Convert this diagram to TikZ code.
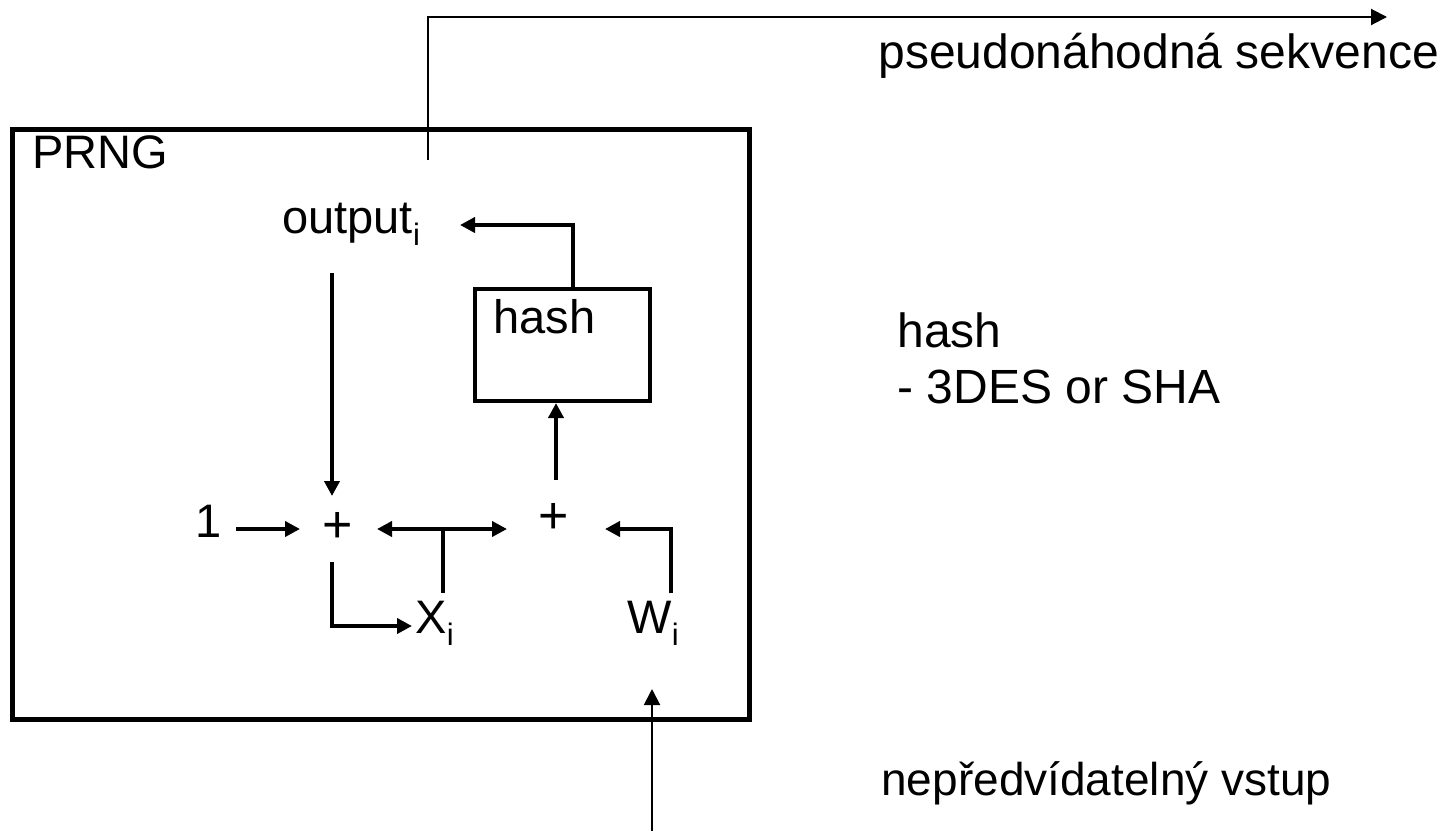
\documentclass[tikz,border=0pt]{standalone}
\usepackage{fontspec}
\setmainfont{Liberation Sans}
\usetikzlibrary{arrows.meta}
\newcommand{\lowi}{\raisebox{-6pt}{\fontsize{15.5}{15.5}\selectfont i}}
\begin{document}
\begin{tikzpicture}[x=0.5pt,y=-0.5pt,
  txt/.style={anchor=base west,inner sep=0pt,font=\fontsize{23.5}{28}\selectfont},
  bigtxt/.style={anchor=base west,inner sep=0pt,font=\fontsize{24}{28}\selectfont},
  smalltxt/.style={anchor=base west,inner sep=0pt,font=\fontsize{23}{28}\selectfont},
  plus/.style={anchor=base,inner sep=0pt,font=\fontsize{26}{28}\selectfont},
  prngbox/.style={draw,line width=2.5pt,minimum width=368.25pt,minimum height=295pt,inner sep=0pt},
  hashbox/.style={draw,line width=2pt,minimum width=87.5pt,minimum height=56pt,inner sep=0pt},
  flow/.style={line width=2pt,-{Triangle[length=7.5pt,width=7.5pt]}},
  flowboth/.style={line width=2pt,{Triangle[length=7.5pt,width=7.5pt]}-{Triangle[length=7.5pt,width=7.5pt]}},
  plain/.style={line width=2pt},
  ext/.style={line width=1pt,-{Triangle[length=8pt,width=8pt]}}
]
\useasboundingbox (0,0) rectangle (1445,831);
% boxes
\node[prngbox] (prng) at (380.75,424) {};
\node[hashbox] (hbox) at (562.5,345) {};
% texts
\node[txt] (prnglabel) at (32,168) {PRNG};
\node[txt] (out) at (282,233) {output\lowi};
\node[txt] (hashlabel) at (493,333) {hash};
\node[txt] (one) at (195,537) {1};
\node[plus] (s1) at (338,542) {+};
\node[plus] (s2) at (554,533) {+};
\node[txt] (xi) at (415,633) {X\lowi};
\node[txt] (wi) at (627,633) {W\lowi};
\node[bigtxt] (pseq) at (878,68) {pseudonáhodná sekvence};
\node[bigtxt] (hnote) at (897,347) {hash};
\node[bigtxt] (hnote2) at (897,403) {- 3DES or SHA};
\node[smalltxt] (inp) at (881,795) {nepředvídatelný vstup};
% coordinates
\coordinate (outstart) at (428,160);
\coordinate (outcorner) at (428,17);
\coordinate (outend) at (1387,17);
\coordinate (inpstart) at (652,831);
\coordinate (inpend) at (652,689);
\coordinate (htop) at (573,289);
\coordinate (hcorner) at (573,225);
\coordinate (outarr) at (460,225);
\coordinate (downs) at (332,273);
\coordinate (downe) at (332,496);
\coordinate (ones) at (236,529);
\coordinate (onee) at (300,529);
\coordinate (dl) at (377,529);
\coordinate (dr) at (507,529);
\coordinate (stemtop) at (443,529);
\coordinate (stembot) at (443,593);
\coordinate (ws) at (671,593);
\coordinate (wc) at (671,529);
\coordinate (we) at (605,529);
\coordinate (s1b) at (332,562);
\coordinate (s1c) at (332,626);
\coordinate (s1e) at (412,626);
\coordinate (upa) at (556,480);
\coordinate (upb) at (556,403);
% connectors
\draw[ext] (outstart) -- (outcorner) -- (outend);
\draw[ext] (inpstart) -- (inpend);
\draw[flow] (htop) -- (hcorner) -- (outarr);
\draw[flow] (downs) -- (downe);
\draw[flow] (ones) -- (onee);
\draw[flowboth] (dl) -- (dr);
\draw[plain] (stemtop) -- (stembot);
\draw[flow] (ws) -- (wc) -- (we);
\draw[flow] (s1b) -- (s1c) -- (s1e);
\draw[flow] (upa) -- (upb);
\end{tikzpicture}
\end{document}
